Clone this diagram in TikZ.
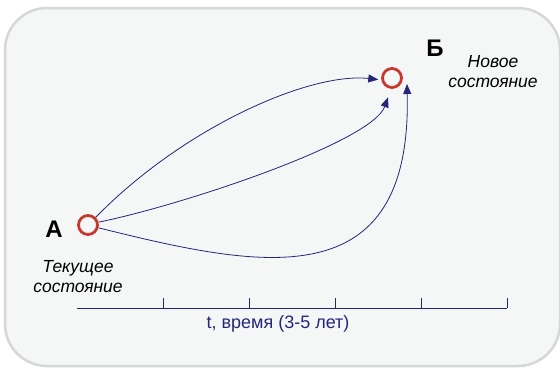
\documentclass[tikz,border=0pt]{standalone}
\usepackage{fontspec}
\setmainfont{Liberation Sans}
\usetikzlibrary{arrows.meta}
\definecolor{navy}{HTML}{25257A}
\definecolor{redc}{HTML}{C8372D}
\definecolor{bordc}{HTML}{D6D8D8}
\definecolor{bgc}{HTML}{F5F7F7}
\tikzset{
  state/.style={circle,draw=redc,line width=2.8pt,minimum size=19pt,inner sep=0pt},
  conn/.style={navy,line width=0.8pt,-{Triangle[length=10pt,width=8pt]}},
  letter/.style={font=\bfseries\fontsize{24}{24}\selectfont},
  desc/.style={font=\itshape\fontsize{17.5}{20}\selectfont,align=center},
  axis/.style={navy,line width=1pt},
}
\begin{document}
\begin{tikzpicture}[x=1pt,y=-1pt]
\useasboundingbox (0,0) rectangle (560,368);
\draw[bordc,line width=2.5pt,fill=bgc,rounded corners=42pt] (5,8) rectangle (560,366);
\node[state] (A) at (88,225) {};
\node[state] (B) at (392,78) {};
\node[letter] (la) at (54,229) {А};
\node[letter] (lb) at (435,48) {Б};
\node[desc] (da) at (78,277) {Текущее\\состояние};
\node[desc] (db) at (493,72) {Новое\\состояние};
\coordinate (ax0) at (77,308);
\coordinate (ax1) at (507,308);
\draw[axis] (ax0) -- (ax1);
\foreach \x in {163,249,335,421,507} \draw[axis] (\x,308) -- (\x,298);
\node[navy,font=\fontsize{18}{20}\selectfont] (tl) at (278,324) {t, время (3-5 лет)};
\draw[conn,shorten >=3pt] (A.45) .. controls (184,127) and (310,72) .. (B.190);
\draw[conn,shorten >=9pt] (A.15) .. controls (183,205) and (372,142) .. (B.-95);
\draw[conn] (A.-15) .. controls (260,268) and (412,300) .. ([xshift=15pt,yshift=-6pt]B.center);
\end{tikzpicture}
\end{document}
